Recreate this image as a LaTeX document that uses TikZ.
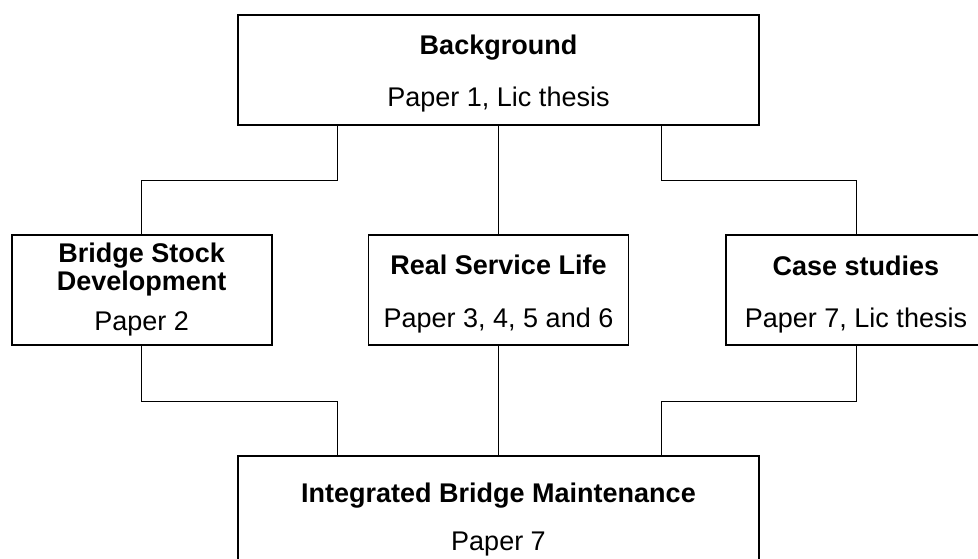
\documentclass[tikz,border=0pt]{standalone}
\usepackage{fontspec}
\setmainfont{Liberation Sans}
\begin{document}
\begin{tikzpicture}[x=1pt,y=-1pt,
  box/.style={draw=black,line width=1.8pt,rectangle,inner sep=0pt,fill=white},
  wide/.style={box,minimum width=521pt,minimum height=110pt},
  mid/.style={box,minimum width=260pt,minimum height=110pt},
  conn/.style={draw=black,line width=1pt},
  ttl/.style={anchor=base,inner sep=0pt,font=\fontsize{27}{32}\selectfont\bfseries},
  txt/.style={anchor=base,inner sep=0pt,font=\fontsize{27}{32}\selectfont}]
\clip (0,0) rectangle (978,559);
\fill[white] (0,0) rectangle (978,559);
% boxes
\node[wide] (bg) at (498.5,70) {};
\node[mid] (br) at (141.7,290) {};
\node[mid] (rsl) at (498.5,290) {};
\node[mid] (cs) at (856,290) {};
\node[wide] (ibm) at (498.5,511) {};
% connectors
\draw[conn] ([xshift=-161.5pt]bg.south) -- ++(0,55) -| (br.north);
\draw[conn] (bg.south) -- (rsl.north);
\draw[conn] ([xshift=162.5pt]bg.south) -- ++(0,55) -| (cs.north);
\draw[conn] (br.south) -- ++(0,56) -| ([xshift=-161.5pt]ibm.north);
\draw[conn] (rsl.south) -- (ibm.north);
\draw[conn] (cs.south) -- ++(0,56) -| ([xshift=162.5pt]ibm.north);
% texts
\node[ttl] (bgt) at (498.5,55) {Background};
\node[txt] (bgp) at (498.5,107) {Paper 1, Lic thesis};
\node[ttl] (brt1) at (141.7,262) {Bridge Stock};
\node[ttl] (brt2) at (141.7,290) {Development};
\node[txt] (brp) at (141.7,330) {Paper 2};
\node[ttl] (rslt) at (498.5,274) {Real Service Life};
\node[txt] (rslp) at (498.5,327) {Paper 3, 4, 5 and 6};
\node[ttl] (cst) at (856,275) {Case studies};
\node[txt] (csp) at (856,327) {Paper 7, Lic thesis};
\node[ttl] (ibmt) at (498.5,502) {Integrated Bridge Maintenance};
\node[txt] (ibmp) at (498.5,550) {Paper 7};
\end{tikzpicture}
\end{document}
